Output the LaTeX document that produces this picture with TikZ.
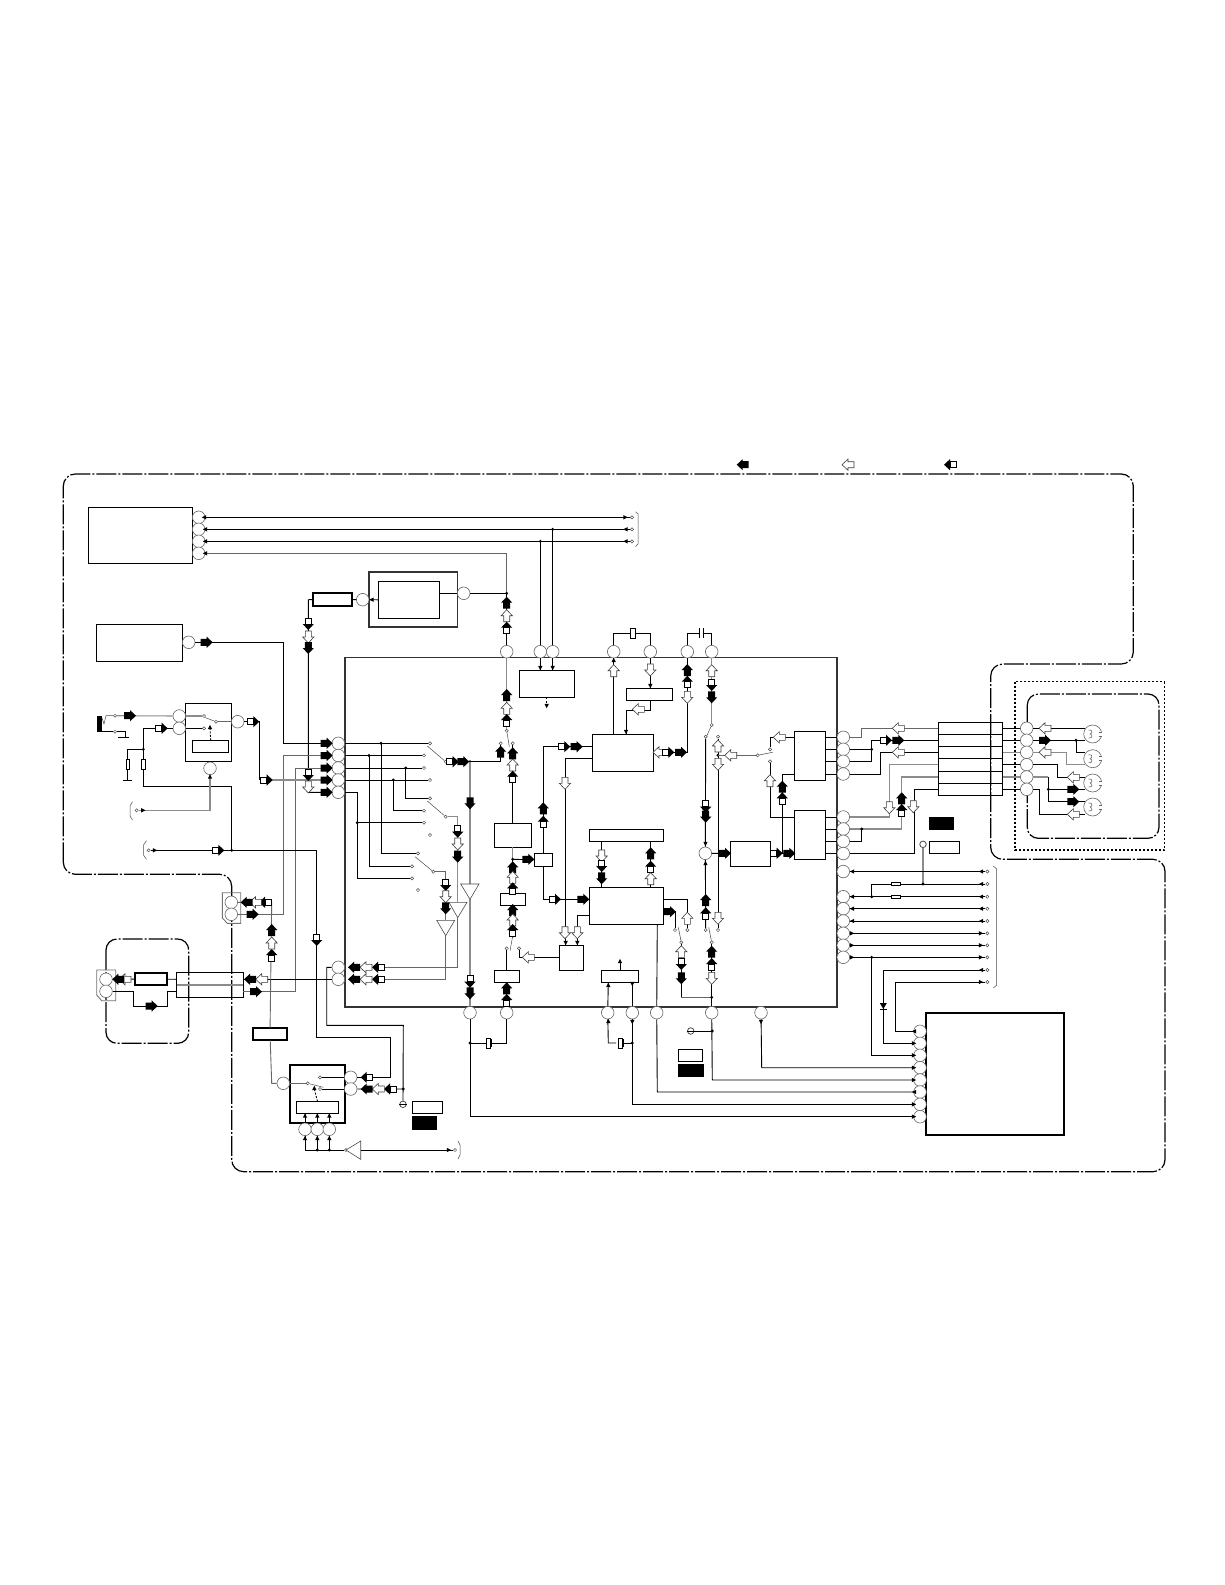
\documentclass[tikz,border=0pt]{standalone}
\usetikzlibrary{arrows.meta,calc}
\tikzset{
 ln/.style={draw=black,line width=0.9pt},
 gl/.style={draw=black!45,line width=1.1pt},
 gd/.style={draw=black!60,line width=0.9pt},
 thn/.style={draw=black!70,line width=0.5pt},
 pinc/.style={circle,draw=black!60,line width=0.6pt,fill=white,inner sep=0pt,minimum size=12.6pt},
 ctc/.style={circle,draw=black!70,line width=0.5pt,fill=white,inner sep=0pt,minimum size=3.2pt},
 bx/.style={rectangle,draw=black,line width=0.9pt,fill=white,inner sep=0pt,outer sep=0pt},
 bxt/.style={rectangle,draw=black,line width=2pt,fill=white,inner sep=0pt,outer sep=0pt},
 bxn/.style={rectangle,draw=black,line width=0.9pt,inner sep=0pt,outer sep=0pt},
 bxs/.style={rectangle,draw=black!80,line width=1.8pt,inner sep=0pt,outer sep=0pt},
 bxb/.style={rectangle,fill=black,inner sep=0pt,outer sep=0pt},
 res/.style={rectangle,draw=black,line width=0.6pt,fill=white,inner sep=0pt,outer sep=0pt},
 bord/.style={draw=black,line width=1.2pt,dash pattern=on 20pt off 2pt on 2pt off 2pt},
 tri/.style={draw=black!70,line width=0.6pt,fill=white},
}
\newcommand{\Pn}[3]{\node[pinc] (#1) at (#2,#3) {};}
\newcommand{\Ct}[3]{\node[ctc] (#1) at (#2,#3) {};}
\newcommand{\Bx}[6]{\node[#1,minimum width={(#5-#3)*1pt},minimum height={(#6-#4)*1pt}] (#2) at ({(#3+#5)/2},{(#4+#6)/2}) {};}
\newcommand{\Dt}[2]{\fill (#1,#2) circle (1.6pt);}
\newcommand{\Tp}[3]{\begin{scope}[shift={(#1,#2)},rotate=#3]\fill (-2.2,-2.2)--(2.2,0)--(-2.2,2.2)--cycle;\end{scope}}
\newcommand{\ArB}[3]{\begin{scope}[shift={(#1,#2)},rotate=#3]\fill (-6,-3.5)--(0,-3.5)--(0,-5.6)--(6,0)--(0,5.6)--(0,3.5)--(-6,3.5)--cycle;\end{scope}}
\newcommand{\ArW}[3]{\begin{scope}[shift={(#1,#2)},rotate=#3]\filldraw[fill=white,draw=black!75,line width=0.6pt] (-6,-3)--(0,-3)--(0,-5.6)--(6,0)--(0,5.6)--(0,3)--(-6,3)--cycle;\end{scope}}
\newcommand{\ArM}[3]{\begin{scope}[shift={(#1,#2)},rotate=#3]\filldraw[fill=white,draw=black,line width=0.7pt] (-6,-3) rectangle (0,3);\fill (0,-5.6)--(6,0)--(0,5.6)--cycle;\end{scope}}
\newcommand{\Mic}[3]{\node[circle,draw=black!60,line width=0.6pt,fill=white,inner sep=0pt,minimum size=18pt] (#1) at (#2,#3) {};
 \fill[white] (#2+6.5,#3-2) rectangle (#2+10,#3+2);
 \draw[draw=black!60,line width=0.6pt] (#2-4,#3-4) .. controls (#2,#3-4.5) and (#2,#3-1) .. (#2-2.5,#3) .. controls (#2,#3+1) and (#2,#3+4.5) .. (#2-4,#3+4);
 \draw[draw=black!60,line width=0.6pt] (#2+6,#3-2) -- (#2+9.5,#3-2) (#2+6,#3+2) -- (#2+9.5,#3+2);}
\begin{document}
\begin{tikzpicture}[x=1pt,y=-1pt]
\useasboundingbox (0,0) rectangle (1225,1585);
\fill[white] (0,0) rectangle (1225,1585);
% frames
\draw[bord,rounded corners=12pt] (63.3,874.3) -- (63.3,474) -- (1133.3,474) -- (1133.3,664) -- (990.7,664) -- (990.7,859.3) -- (1165,859.3) -- (1165,1171.7) -- (231.7,1171.7) -- (231.7,874.3) -- cycle;
\draw[draw=black,line width=1.3pt,dash pattern=on 2pt off 2pt] (1015,681.7) rectangle (1164.3,850);
\draw[bord,rounded corners=11pt] (1027.3,694) rectangle (1159,838.3);
\draw[bord,rounded corners=11pt] (106,939) rectangle (188.7,1043.3);
% main IC
\Bx{bxs}{ic}{344.7}{657.5}{837.3}{1006.7}
% blocks
\Bx{bx}{ba}{88.3}{507.3}{192.7}{563.3}
\draw[line width=1.4pt] (88.3,563.3) -- (192.7,563.3);
\Bx{bx}{bb}{96.3}{624.3}{182.3}{661.3}
\Bx{bx}{bc}{185.3}{703.3}{231.7}{761.3}
\Bx{bx}{bci}{192.7}{740.3}{228.7}{752.7}
\Bx{bxs}{bd}{369}{572}{457.5}{627.3}
\Bx{bx}{bdi}{378.3}{581.3}{439.6}{618.3}
\Bx{bxt}{ra}{313.3}{593.3}{351.7}{606}
\Bx{bxt}{rb}{135}{972.7}{167.3}{985.3}
\Bx{bxt}{rc}{253.3}{1027.7}{286.7}{1040.3}
\Bx{bxt}{bs}{290}{1065}{345.3}{1123.3}
\Bx{bx}{bsi}{296.3}{1101.3}{338.7}{1113.3}
\Bx{bx}{lw}{412.3}{1101.7}{442.3}{1113.3}
\Bx{bxb}{lk}{412.3}{1116}{436.7}{1129.7}
\Bx{bxn}{mr}{176.7}{972.7}{243.3}{997.3}
\draw[gl] (mr.west) -- (mr.east);
\draw[thn,line width=0.9pt,draw=black!55] (222.3,892.7) -- (240.7,892.7) -- (240.7,923.3) -- (227.3,923.3) -- (222.3,918) -- cycle;
\draw[thn,line width=0.9pt,draw=black!55] (96.7,970) -- (115.7,970) -- (115.7,1000.7) -- (101.7,1000.7) -- (96.7,995) -- cycle;
% IC inner blocks
\Bx{bx}{c1}{519.3}{670.3}{574.3}{697.3}
\Bx{bx}{c2}{494.3}{823.3}{531.7}{847.3}
\Bx{bx}{c3}{534.3}{853.3}{552.3}{866.7}
\Bx{bx}{c4}{500.3}{893.3}{525.7}{905.7}
\Bx{bx}{c5}{494.3}{970.7}{519.3}{982.7}
\Bx{bx}{c6}{559.3}{945.3}{583.7}{970.3}
\Bx{bx}{d1}{592.3}{734.3}{653.3}{771.3}
\Bx{bx}{d2}{626.3}{688.3}{672.3}{700.3}
\Bx{bx}{d3}{589.3}{829.7}{663.3}{841.3}
\Bx{bx}{d4}{589.3}{887.3}{663.3}{924.3}
\Bx{bx}{d5}{601.3}{970.3}{638.7}{982.3}
\Bx{bx}{e1}{794.3}{731.3}{825.7}{780.3}
\Bx{bx}{e2}{794.3}{810.3}{825.7}{859.3}
\Bx{bx}{e3}{730.3}{841.3}{770.7}{866.3}
\Bx{bxn}{tb}{938.3}{722.3}{1002.7}{795.3}
\Bx{bxb}{rk}{929.3}{817.3}{954}{830}
\Bx{bx}{rw}{929.3}{841.3}{959.3}{853.7}
\Bx{bx}{bw}{678.3}{1049.3}{702.7}{1061.7}
\Bx{bxb}{bk}{678}{1064}{704}{1076.7}
\Bx{bxt}{kk}{926}{1012.7}{1064}{1135}
% pins
\Pn{aa1}{198.7}{517.3}\Pn{aa2}{198.7}{529.3}\Pn{aa3}{198.7}{541.3}\Pn{aa4}{198.7}{553.3}
\Pn{pd1}{362.7}{599.7}\Pn{pd2}{463.7}{593.3}\Pn{pb}{188.7}{642.3}
\Pn{pc1}{179.3}{716}\Pn{pc2}{179.3}{728.3}\Pn{pc3}{237.7}{721.7}\Pn{pc4}{210}{768.3}
\Pn{Lf1}{338.3}{743.3}\Pn{Lf2}{338.3}{755.5}\Pn{Lf3}{338.3}{768}\Pn{Lf4}{338.3}{780}\Pn{Lf5}{338.3}{792.3}
\Pn{Lf6}{338.3}{967.3}\Pn{Lf7}{338.3}{979.3}
\Pn{cn1}{231.3}{902.3}\Pn{cn2}{231.3}{914.3}\Pn{ld1}{106}{979.3}\Pn{ld2}{106}{991.3}
\Pn{sw1}{350.7}{1077.3}\Pn{sw2}{350.7}{1089}\Pn{sw3}{283.3}{1083.3}
\Pn{sb1}{305}{1129.3}\Pn{sb2}{317.3}{1129.3}\Pn{sb3}{329.3}{1129.3}
\Pn{tp1}{506.7}{651.7}\Pn{tp2}{540.3}{651.7}\Pn{tp3}{552.7}{651.7}\Pn{tp4}{613.7}{651.7}\Pn{tp5}{650.3}{651.7}\Pn{tp6}{687.3}{651.7}\Pn{tp7}{711.7}{651.7}
\Pn{bm1}{470}{1012.7}\Pn{bm2}{506.7}{1012.7}\Pn{bm3}{607.7}{1012.7}\Pn{bm4}{632.3}{1012.7}\Pn{bm5}{656.7}{1012.7}\Pn{bm6}{711.7}{1012.7}\Pn{bm7}{761}{1012.7}
\Pn{ce}{705.3}{853.3}
\Pn{Rg1}{843.3}{737.3}\Pn{Rg2}{843.3}{749.3}\Pn{Rg3}{843.3}{761.3}\Pn{Rg4}{843.3}{774}
\Pn{Rg5}{843.3}{817}\Pn{Rg6}{843.3}{829}\Pn{Rg7}{843.3}{841.3}\Pn{Rg8}{843.3}{853.5}\Pn{Rg9}{843.3}{871.5}
\Pn{Rh1}{843.3}{896.7}\Pn{Rh2}{843.3}{908.7}\Pn{Rh3}{843.3}{921}\Pn{Rh4}{843.3}{933.3}\Pn{Rh5}{843.3}{945.3}\Pn{Rh6}{843.3}{957.3}
\Pn{Tr1}{1026.7}{728.3}\Pn{Tr2}{1026.7}{740.3}\Pn{Tr3}{1026.7}{752.3}\Pn{Tr4}{1026.7}{764.7}\Pn{Tr5}{1026.7}{777}\Pn{Tr6}{1026.7}{789.3}
\Pn{Kp1}{920}{1031.3}\Pn{Kp2}{920}{1043.3}\Pn{Kp3}{920}{1055.3}\Pn{Kp4}{920}{1067.7}\Pn{Kp5}{920}{1080}\Pn{Kp6}{920}{1092}\Pn{Kp7}{920}{1104.3}\Pn{Kp8}{920}{1116.7}
\Mic{m1}{1092.7}{734}\Mic{m2}{1092.7}{758.7}\Mic{m3}{1092.7}{783}\Mic{m4}{1092.7}{807}
% contacts
\Ct{ea1}{632}{517.3}\Ct{ea2}{632}{529.3}\Ct{ea3}{632}{541.3}
\Ct{ja}{115}{715.7}\Ct{jb}{115}{731.7}
\Ct{sa}{204}{716}\Ct{sb}{204}{728.3}\Ct{sc}{216}{721.7}
\Ct{ec}{136.7}{810.3}\Ct{ed}{148.7}{850.3}
\Ct{qa}{320}{1077.3}\Ct{qb}{320}{1089}\Ct{qc}{307.7}{1083.3}\Ct{qd}{346}{1150}\Ct{qe}{455}{1150}
\Ct{k1}{430}{743.3}\Ct{k2}{424}{755.5}\Ct{k3}{424}{768}\Ct{k4}{430}{780}\Ct{k5}{445.7}{761.7}
\Ct{k6}{430}{798.3}\Ct{k7}{424}{810.7}\Ct{k8}{424}{822.7}\Ct{k9}{430}{835}\Ct{k10}{445.7}{816.7}
\Ct{k11}{418}{853.3}\Ct{k12}{412}{866.3}\Ct{k13}{412}{878.3}\Ct{k14}{418}{890}\Ct{k15}{433.3}{871.7}
\Ct{u1}{506.7}{730.7}\Ct{u2}{500.7}{743.3}\Ct{u3}{512.7}{743.3}
\Ct{u4}{512.7}{936}\Ct{u5}{506.7}{948.3}\Ct{u6}{519}{948.3}
\Ct{v1}{711.7}{725}\Ct{v2}{705.7}{736.7}\Ct{v3}{718}{736.7}
\Ct{v4}{757.7}{755.3}\Ct{v5}{770}{749.3}\Ct{v6}{770}{761.3}
\Ct{w1}{675}{930}\Ct{w2}{687.3}{930}\Ct{w3}{681.3}{942.3}
\Ct{w4}{705.7}{930}\Ct{w5}{718}{930}\Ct{w6}{711.7}{942.3}
\Ct{z1}{987.3}{871.5}\Ct{z2}{987.3}{884}\Ct{z3}{987.3}{896.7}\Ct{z4}{987.3}{908.7}\Ct{z5}{987.3}{921}\Ct{z6}{987.3}{933.3}\Ct{z7}{987.3}{945.3}\Ct{z8}{987.3}{957.3}\Ct{z9}{987.3}{970}\Ct{z10}{987.3}{982}
\node[circle,draw=black!70,line width=0.8pt,fill=white,inner sep=0pt,minimum size=6.5pt] (tpa) at (403,1104.3) {};
\node[circle,draw=black!70,line width=0.8pt,fill=white,inner sep=0pt,minimum size=6.5pt] (tpb) at (923,844.3) {};
\node[circle,draw=black!70,line width=0.8pt,fill=white,inner sep=0pt,minimum size=6.5pt] (tpc) at (690.7,1031) {};
\draw[line width=0.6pt] (tpa.west) -- (tpa.east) (tpc.west) -- (tpc.east);
% top lines
\draw[ln] (aa1) -- (ea1); \draw[ln] (aa2) -- (ea2); \draw[ln] (aa3) -- (ea3);
\draw[gd] (aa4) -- (506.7,553.3) -- (506.7,593.3);
\draw[thn] (635.5,511.7) -- (638,514) -- (638,544) -- (635.5,546.7);
\Dt{552.7}{529.3}\Dt{540.3}{541.3}
\draw[ln] (552.7,529.3) -- (tp3); \draw[ln] (540.3,541.3) -- (tp2);
\draw[ln] (pd2) -- (506.7,593.3) -- (tp1); \Dt{506.7}{593.3}
\draw[ln] (bdi.east |- pd2) -- (pd2);
\draw[ln] (bdi.west) -- (pd1); \draw[ln] (pd1) -- (ra);
\draw[ln] (ra.west) -- (308.3,599.7) -- (308.3,792.3) -- (Lf5);
\draw[ln] (pb) -- (283.3,642.3) -- (283.3,743.3) -- (Lf1);
\draw[gd] (Lf2) -- (283.3,755.5) -- (283.3,914.3) -- (cn2);
\draw[gd] (Lf3) -- (295.7,768) -- (295.7,991.7) -- (mr.east |- 0,991.7);
\draw[gl] (Lf4) -- (266.7,780);
\draw[ln] (pc3) -- (259.3,721.7) -- (259.3,780);
% jack block
\fill (97.3,716) rectangle (101.7,731.7);
\draw[thn] (ja) -- (106,715.7) -- (104,724) -- (102,718);
\draw[ln] (jb) -- (101.7,731.7) (jb) -- (125,731.7) -- (125,737.3) (118.3,737.3) -- (129,737.3);
\draw[gl] (ja) -- (pc1); \draw[gl] (pc1) -- (sa); \draw[ln] (pc2) -- (sb);
\draw[gd] (sc) -- (pc3); \draw[thn] (sc) -- (205,717.5);
\draw[line width=0.9pt,dash pattern=on 2pt off 1.5pt] (bci.north) -- (210,728);
\Tp{210}{727}{90}
\draw[ln] (pc2) -- (143.3,728.3) -- (143.3,786.7) -- (231.7,786.7) -- (231.7,850.3);
\Dt{143.3}{749.3}
\draw[ln] (143.3,749.3) -- (127.7,749.3) -- (127.7,780) (122.7,780) -- (132,780);
\node[res,minimum width=3.5pt,minimum height=10pt] (re1) at (143.3,764.7) {};
\node[res,minimum width=3.5pt,minimum height=10pt] (re2) at (127.7,764.7) {};
\draw[thn] (132.5,801.7) -- (130,806) -- (130,816) -- (132.5,820);
\draw[gl] (ec) -- (210,810.3) -- (pc4); \Tp{143.3}{810.3}{0} \Tp{210}{776.5}{90}
\draw[thn] (146.5,840.7) -- (143.5,845) -- (143.5,855) -- (146.5,859.3);
\draw[ln] (ed) -- (316.7,850.3) -- (316.7,1037.3) -- (390.7,1037.3) -- (390.7,1077.3) -- (sw1);
\Tp{155}{850.3}{0} \Dt{231.7}{850.3}
% lower-left
\draw[ln] (ld1) -- (rb); \draw[ln] (rb) -- (176.7,979.3);
\draw[ln] (ld2) -- (133.3,991.3) -- (133.3,1006) -- (167.7,1006) -- (167.7,991.3) -- (176.7,991.3);
\draw[ln] (Lf7) -- (mr.east |- Lf7);
\draw[gd] (cn1) -- (271.7,902.3) -- (rc); \draw[gd] (rc) -- (271.7,1083.3) -- (sw3);
\draw[gd] (sw3) -- (qc); \draw[thn] (qc) -- (323.3,1087.3);
\draw[ln] (sw1) -- (qa); \draw[ln] (sw2) -- (qb);
\draw[line width=0.9pt,dash pattern=on 2pt off 1.5pt] (bsi.north) -- (314.3,1089);
\Tp{314.3}{1088}{90}
\draw[ln] (sw2) -- (403.3,1089) (Lf6) -- (326.7,967.3) -- (326.7,1025.3) -- (403.3,1025.3) -- (tpa); \Dt{403.3}{1089}
\draw[ln] (sb1) -- (305,1113.3) (sb2) -- (317.3,1113.3) (sb3) -- (329.3,1113.3);
\Tp{305}{1115.5}{90}\Tp{317.3}{1115.5}{90}\Tp{329.3}{1115.5}{90}
\draw[ln] (qd) -- (305,1150) -- (sb1); \draw[ln] (317.3,1150) -- (sb2); \draw[ln] (329.3,1150) -- (sb3);
\Dt{317.3}{1150}\Dt{329.3}{1150}
\Tp{305}{1138}{90}\Tp{317.3}{1138}{90}\Tp{329.3}{1138}{90}
\draw[tri] (346,1150) -- (360.7,1141) -- (360.7,1159.3) -- cycle;
\draw[ln] (360.7,1150) -- (qe); \Tp{449}{1150}{0}
\draw[thn] (458,1141) -- (460,1145) -- (460,1155) -- (458,1159);
% IC left
\draw[ln] (Lf1) -- (k1); \Dt{381}{743.3}\Dt{369}{755.5}\Dt{405.7}{768}\Dt{393.3}{780}
\draw[ln] (Lf2) -- (k2); \draw[ln] (Lf3) -- (k3); \draw[ln] (Lf4) -- (k4);
\draw[ln] (Lf5) -- (357.3,792.3) -- (357.3,878.3) -- (k13);
\Dt{357.3}{822.7}\draw[ln] (357.3,822.7) -- (k8);
\draw[ln] (381,743.3) -- (381,853.3) -- (k11);
\draw[ln] (369,755.5) -- (369,866.3) -- (k12);
\draw[ln] (405.7,768) -- (405.7,798.3) -- (k6);
\draw[ln] (393.3,780) -- (393.3,810.7) -- (k7);
\draw[thn] (k5) -- (427.3,746); \draw[thn] (k10) -- (427.3,801); \draw[thn] (k15) -- (415,856.7);
\draw[ln] (k5) -- (470,761.7) -- (500.7,761.7) -- (u2); \Dt{470}{761.7}
\draw[gl] (470,761.7) -- (470,884); \draw[gl] (470,899.3) -- (bm1);
\draw[tri] (460.7,884) -- (479,884) -- (470,899.3) -- cycle;
\draw[gl] (k10) -- (457.7,816.7) -- (457.7,902.3);
\draw[tri] (449,902.3) -- (467,902.3) -- (457.7,917.7) -- cycle;
\draw[gd] (457.7,917.7) -- (457.7,967.3) -- (384,967.3);
\draw[gd] (k15) -- (445.7,871.7) -- (445.7,920.3);
\draw[tri] (436.7,920.3) -- (454.7,920.3) -- (445.7,935.7) -- cycle;
\draw[gd] (445.7,935.7) -- (445.7,979.3) -- (384,979.3);
% centre
\draw[gl] (tp1) -- (u1); \draw[thn] (u1) -- (509.3,746.7);
\draw[ln] (u3) -- (512.7,823.3); 
\draw[gl] (512.7,847.3) -- (512.7,859.3); \Dt{512.7}{859.3}
\draw[ln] (512.7,859.3) -- (c3); \draw[ln] (512.7,859.3) -- (512.7,893.3);
\draw[ln] (512.7,905.7) -- (u4); \draw[thn] (u4) -- (510,950.7);
\draw[ln] (u5) -- (506.7,970.7); \draw[ln] (506.7,982.7) -- (bm2);
\draw[ln] (u6) -- (519,957.3) -- (559.3,957.3);
\draw[ln] (c3.north) -- (543.3,746.7) -- (592.3,746.7);
\draw[ln] (c3.south) -- (543.3,899.3) -- (589.3,899.3);
\draw[ln] (592.3,758.3) -- (565.7,758.3) -- (565.7,945.3); \Tp{565.7}{943}{270}
\draw[ln] (589.3,915) -- (577.3,915) -- (577.3,945.3); \Tp{577.3}{943}{270}
\draw[ln] (tp2) -- (540.3,670.3); \draw[ln] (tp3) -- (552.7,670.3);
\Tp{540.3}{668}{270}\Tp{552.7}{668}{270}
\draw[line width=0.9pt,dash pattern=on 2pt off 1.5pt] (546.7,697.3) -- (546.7,704); \Tp{546.7}{706}{270}
\draw[ln] (d1.north -| tp4) -- (tp4); \Tp{613.7}{660}{90}
\draw[ln] (tp5) -- (d2.north -| tp5); \Tp{650.3}{686}{270}
\draw[ln] (650.3,700.3) -- (650.3,710) -- (626,710) -- (626,734.3); \Tp{626}{732}{270}
\draw[ln] (653.3,752.3) -- (687.3,752.3) -- (tp6);
\draw[gl] (tp7) -- (v1); \draw[thn] (v1) -- (706.7,736);
\draw[ln] (v2) -- (ce); \Tp{705.5}{844}{270}
\draw[ln] (v3) -- (w5); \Dt{718}{755.3}
\draw[gd] (718,755.3) -- (v4); \draw[thn] (v4) -- (772.7,752.3);
\draw[ln] (v5) -- (770,737.3) -- (794.3,737.3);
\draw[ln] (v6) -- (770,817.7) -- (794.3,817.7);
\draw[ln] (794.3,774) -- (782.3,774) -- (782.3,853.3);
\draw[ln] (ce) -- (e3); \draw[ln] (e3) -- (e2.west |- e3);
\draw[ln] (ce) -- (w4); \Tp{705.5}{863}{90}
\draw[ln] (825.7,737.3) -- (Rg1); \draw[ln] (825.7,749.3) -- (Rg2); \draw[ln] (825.7,761.3) -- (Rg3); \draw[ln] (825.7,774) -- (Rg4);
\draw[ln] (825.7,817) -- (Rg5); \draw[ln] (825.7,829) -- (Rg6); \draw[ln] (825.7,841.3) -- (Rg7); \draw[ln] (825.7,853.5) -- (Rg8);
\draw[ln] (601.7,841.3) -- (601.7,887.3); \draw[ln] (650.7,841.3) -- (650.7,887.3);
\draw[ln] (663.3,899.3) -- (687.3,899.3) -- (w2);
\draw[ln] (663.3,911.7) -- (675,911.7) -- (w1);
\draw[thn] (w3) -- (678.3,927.3); \draw[thn] (w6) -- (708.7,927.3);
\draw[ln] (w3) -- (681.3,997.3); \draw[gd] (681.3,997.3) -- (711.7,997.3); \Dt{711.7}{997.3}
\draw[ln] (w6) -- (bm6); \draw[ln] (bm6) -- (712.3,1080) -- (Kp5);
\Dt{712.3}{1031}\draw[ln] (712.3,1031) -- (tpc);
\draw[ln] (bm5) -- (657.3,924.3); \draw[ln] (bm5) -- (657.3,1092) -- (Kp6);
\draw[ln] (bm3) -- (608.3,982.3); \draw[ln] (bm4) -- (632.3,982.3);
\Tp{608.3}{985}{90}\Tp{632.3}{984}{270}
\draw[ln] (620,970.3) -- (620,963); \Tp{620}{961}{90}
\draw[ln] (bm3) -- (608.3,1043) -- (616,1043);
\draw[ln] (624,1043) -- (632.3,1043); \Dt{632.3}{1043}
\draw[ln] (bm4) -- (632.3,1104.3) -- (Kp7);
\Tp{608.3}{1021}{90}\Tp{632.3}{1022}{270}
\node[res,minimum width=4pt,minimum height=10pt] (xb) at (620,1043) {};
\draw[line width=0.8pt] (623.5,1039) -- (623.5,1047);
\draw[ln] (bm1) -- (470,1116.7) -- (Kp8); \Dt{470}{1043}
\draw[ln] (470,1043) -- (506.7,1043) -- (bm2);
\node[res,minimum width=4pt,minimum height=10pt] (xc) at (488,1043) {};
\draw[line width=0.8pt] (491.5,1039) -- (491.5,1047);
\draw[ln] (bm7) -- (761.7,1067.7) -- (Kp4); \Tp{761}{1022}{270}
\Tp{914}{1067.7}{0}\Tp{914}{1080}{0}\Tp{914}{1092}{180}\Tp{914}{1104.3}{0}\Tp{914}{1116.7}{0}
\Tp{914}{1031.3}{180}\Tp{914}{1043.3}{0}\Tp{914}{1055.3}{0}
% top crystal and capacitor
\draw[ln] (tp4) -- (613.7,633.3) -- (650.3,633.3) -- (tp5);
\node[res,line width=0.9pt,minimum width=4.5pt,minimum height=10pt] (xa) at (632.7,633.3) {};
\draw[ln] (tp6) -- (687.3,633.3) -- (699.7,633.3) (703.7,633.3) -- (711.7,633.3) -- (tp7);
\draw[line width=0.9pt] (699.7,628.3) -- (699.7,638.3) (703.7,628.3) -- (703.7,638.3);
% right side
\draw[gd] (Rg1) -- (861.7,737.3) -- (861.7,728.3) -- (938.3,728.3);
\draw[ln] (Rg2) -- (871.7,749.3); \Dt{871.7}{749.3}
\draw[ln] (Rg3) -- (871.7,761.3) -- (871.7,740.3) -- (938.3,740.3);
\draw[ln] (Rg4) -- (880.7,774) -- (880.7,752.3) -- (938.3,752.3);
\draw[gl] (938.3,764.7) -- (889.3,764.7) -- (889.3,817) -- (Rg5);
\draw[gl] (938.3,777) -- (901.7,777) -- (901.7,829) -- (Rg6);
\Dt{861.7}{829}\draw[ln] (861.7,829) -- (861.7,841.3) -- (Rg7);
\draw[ln] (938.3,789.3) -- (914.3,789.3) -- (914.3,853.5) -- (Rg8);
\foreach \yy in {734.3,746.3,758.7,771,783.3} \draw[ln] (938.3,\yy) -- (1002.7,\yy);
\draw[ln] (990.7,722.3) -- (990.7,795.3);
\draw[ln] (1002.7,728.3) -- (Tr1); \draw[ln] (1002.7,740.3) -- (Tr2); \draw[gl] (1002.7,752.3) -- (Tr3);
\draw[ln] (1002.7,764.7) -- (Tr4); \draw[gl] (1002.7,777) -- (Tr5); \draw[ln] (1002.7,789.3) -- (Tr6);
\draw[ln] (Tr1) -- (1085,728.3);
\draw[ln] (Tr2) -- (1085,740.3); \Dt{1076}{740.3}\draw[ln] (1076,740.3) -- (1076,752.3) -- (1085,752.3);
\draw[gl] (Tr3) -- (1066.7,752.3) -- (1066.7,764.7) -- (1085,764.7);
\draw[ln] (Tr4) -- (1057.7,764.7) -- (1057.7,777.3) -- (1085,777.3);
\draw[gl] (Tr5) -- (1048.3,777);\draw[ln] (1048.3,777) -- (1048.3,801.7) -- (1085,801.7);
\Dt{1048.3}{789.3}\draw[ln] (1048.3,789.3) -- (1085,789.3);
\draw[ln] (Tr6) -- (1039.3,789.3) -- (1039.3,814.3) -- (1085,814.3);
% right pins to edge connector
\draw[gl] (tpb) -- (923,884); \Dt{923}{884}
\draw[ln] (Rg9) -- (z1); \draw[ln] (871.7,884) -- (z2); \draw[ln] (Rh1) -- (z3); \draw[ln] (Rh2) -- (z4); \draw[ln] (Rh3) -- (z5); \draw[ln] (Rh4) -- (z6); \draw[ln] (Rh5) -- (z7); \draw[ln] (Rh6) -- (z8);
\draw[ln] (871.7,884) -- (871.7,896.7); \Dt{871.7}{896.7}
\node[res,minimum width=9.3pt,minimum height=3.3pt] (ra1) at (896,884) {};
\node[res,minimum width=9.3pt,minimum height=3.3pt] (ra2) at (896,896.7) {};
\draw[ln] (z9) -- (883.3,970) -- (883.3,1043.3) -- (Kp2);
\draw[ln] (z10) -- (895.7,982) -- (895.7,1031.3) -- (Kp1);
\Dt{871.7}{957.3}\draw[ln] (871.7,957.3) -- (871.7,1055.3) -- (Kp3);
\fill (879.8,1003) -- (886.8,1003) -- (883.3,1009) -- cycle; \draw[line width=0.9pt] (879.8,1009) -- (886.8,1009);
\foreach \yy in {871.5,884,896.7,908.7,921,970} \Tp{981}{\yy}{180};
\foreach \yy in {933.3,945.3,957.3,982} \Tp{981}{\yy}{0};
\foreach \yy in {871.5,896.7,908.7,921} \Tp{852}{\yy}{180};
\foreach \yy in {933.3,945.3,957.3} \Tp{852}{\yy}{0};
\draw[thn] (993.3,866) -- (996.7,869) -- (996.7,985) -- (993.3,988);
\Tp{204}{517.3}{180}\Tp{205}{529.3}{180}\Tp{205}{541.3}{180}\Tp{205}{553.3}{180}
\Tp{625.5}{517.3}{0}\Tp{625.5}{529.3}{180}\Tp{625.5}{541.3}{180}
\Tp{371.5}{599.7}{180}
% block arrows: legend and left
\ArB{742.7}{464.7}{180}\ArW{848}{464.7}{180}\ArM{950}{464.7}{180}
\ArB{206.7}{642.3}{0}\ArB{130}{715.7}{0}\ArM{161.7}{728.3}{0}\ArM{253.3}{721.7}{0}\ArM{266.7}{780}{0}\ArM{218.3}{850.3}{0}
\ArM{308.3}{624}{270}\ArW{308.3}{637}{270}\ArB{308.3}{648}{270}\ArM{308.3}{775}{270}\ArW{308.3}{787}{270}
\ArB{326.7}{743.3}{0}\ArB{326.7}{755.5}{0}\ArB{326.7}{768}{0}\ArB{326.7}{780}{0}\ArB{326.7}{792.3}{0}
\ArM{316.7}{940}{270}
\ArM{265}{902.3}{180}\ArW{255.5}{902.3}{180}\ArB{246.7}{902.3}{180}\ArB{252.7}{914.3}{0}
\ArM{271.7}{955}{90}\ArW{271.7}{943}{90}\ArB{271.7}{930}{90}
\ArW{261.7}{979.3}{180}\ArB{250}{979.3}{180}\ArB{256}{991.7}{0}
\ArW{125}{979.3}{180}\ArB{118.3}{979.3}{180}\ArB{151.7}{1006}{0}
\ArM{378}{967.3}{180}\ArW{366}{967.3}{180}\ArB{354}{967.3}{180}
\ArM{378}{979.3}{180}\ArW{366}{979.3}{180}\ArB{354}{979.3}{180}
\ArM{366.7}{1077.3}{180}\ArM{390}{1089}{180}\ArW{378.3}{1089}{180}\ArB{366.7}{1089}{180}
% centre-left
\ArM{506.7}{627.7}{90}\ArW{506.7}{615.7}{90}\ArB{506.7}{602.7}{90}
\ArM{452.7}{761.7}{0}\ArB{463.3}{761.7}{0}\ArB{470}{803.3}{270}
\ArM{457.7}{831.7}{270}\ArW{457.7}{844}{270}\ArB{457.7}{856.7}{270}
\ArM{445.7}{885}{270}\ArW{445.7}{896.7}{270}\ArB{445.7}{908.3}{270}
\ArM{470}{981.7}{270}\ArB{470}{993.3}{270}
\ArB{506.7}{695}{90}\ArW{506.7}{708.3}{90}\ArM{506.7}{720}{90}
\ArB{500.7}{751.7}{90}\ArB{512.7}{753.3}{90}\ArW{512.7}{765}{90}\ArM{512.7}{776.7}{90}
\ArB{528.3}{859.3}{0}
\ArB{512.7}{867.3}{90}\ArW{512.7}{877.3}{90}\ArM{512.7}{888.3}{90}
\ArB{512.7}{910}{90}\ArW{512.7}{920}{90}\ArM{512.7}{930}{90}
\ArB{506.7}{988.3}{90}\ArM{506.7}{1000}{90}
\ArW{528.3}{957.3}{180}
\ArM{564.3}{746.7}{0}\ArB{576.7}{746.7}{0}
\ArB{543.3}{808.3}{90}\ArM{543.3}{821.7}{90}
\ArM{555}{899.3}{0}\ArB{583.3}{899.3}{0}
\ArW{565}{783.3}{270}\ArW{565}{932.7}{270}\ArW{577.3}{932.7}{270}
% centre-right
\ArW{613.7}{670.7}{90}\ArW{650.3}{670}{270}\ArW{638.3}{709.3}{180}
\ArW{659}{752.3}{180}\ArM{668.3}{752.3}{0}\ArB{681}{752.3}{0}
\ArB{687.3}{670}{90}\ArM{687.3}{681.7}{90}\ArW{687.3}{697.3}{270}
\ArW{711.7}{670.7}{90}\ArM{711.7}{685}{270}\ArB{711.7}{697.3}{270}
\ArM{705.7}{806.7}{270}\ArB{705.7}{816.7}{270}
\ArW{718}{746}{90}\ArW{718}{764.3}{270}\ArW{718}{918.3}{270}
\ArW{730.7}{755.3}{180}\ArW{779.3}{737.3}{180}\ArW{770}{780.7}{90}
\ArB{782.3}{786.7}{90}\ArM{782.3}{798.3}{90}
\ArB{725}{853.3}{0}\ArM{776.7}{853.3}{0}\ArB{789.3}{853.3}{0}
\ArW{601.7}{856}{270}\ArM{601.7}{866}{270}\ArB{601.7}{878.3}{270}
\ArB{650.7}{853.3}{90}\ArM{650.7}{866.7}{90}\ArW{650.7}{878.7}{90}
\ArB{670}{911.7}{0}\ArW{687.3}{918.3}{90}
\ArW{681.3}{951.7}{90}\ArM{681.3}{964}{270}\ArB{681.3}{978.3}{270}
\ArB{705.7}{900}{90}\ArM{705.7}{913.3}{90}
\ArB{711.7}{951.7}{90}\ArM{711.7}{964}{90}\ArW{711.7}{978.3}{270}
% right
\ArW{898.3}{728.3}{180}\ArM{886}{740.3}{0}\ArB{898.3}{740.3}{0}\ArW{898.3}{752.3}{180}
\ArW{889.3}{807.7}{270}\ArB{901.7}{798.3}{90}\ArM{901.7}{810}{90}\ArW{913.3}{806.7}{270}
\ArW{1045}{728.3}{180}\ArB{1045}{740.3}{0}\ArW{1045}{752.3}{180}
\ArW{1073.3}{777.3}{180}\ArB{1073.3}{789.3}{0}\ArB{1073.3}{801.7}{0}\ArW{1073.3}{814.3}{180}
\end{tikzpicture}
\end{document}
